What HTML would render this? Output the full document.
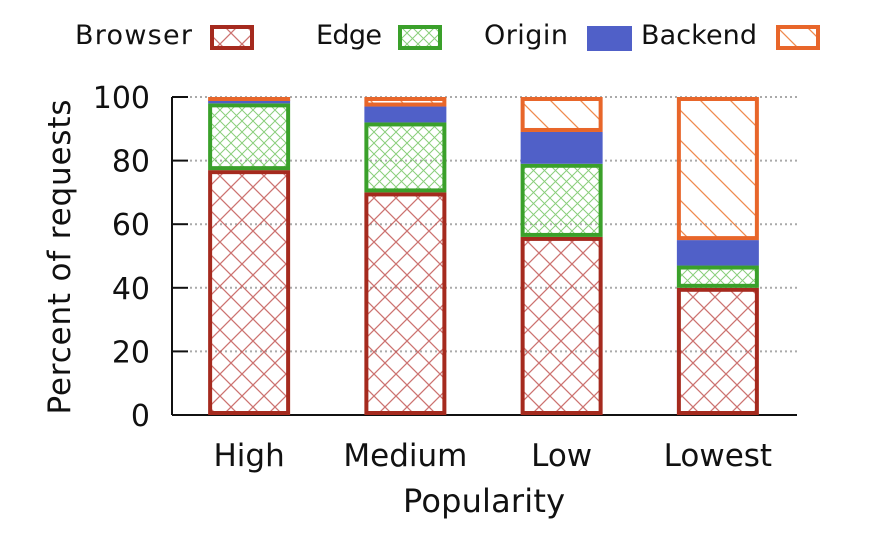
<!DOCTYPE html>
<html><head><meta charset="utf-8"><style>
html,body{margin:0;padding:0;background:#fff;}
svg{display:block;font-family:"DejaVu Sans","Liberation Sans",sans-serif;}
</style></head><body>
<svg id="chart" width="876" height="542" viewBox="0 0 876 542">
<defs>
<pattern id="pBrowser" width="22" height="22" patternUnits="userSpaceOnUse">
<path d="M0,0 L22,22 M22,0 L0,22" stroke="#c0504d" stroke-width="1.3" opacity="0.8"/></pattern>
<pattern id="pEdge" width="11" height="11" patternUnits="userSpaceOnUse">
<path d="M0,0 L11,11 M11,0 L0,11" stroke="#6cc25a" stroke-width="1" opacity="0.8"/></pattern>
<pattern id="pBackend" width="30" height="30" patternUnits="userSpaceOnUse">
<path d="M0,0 L30,30 M-15,15 L15,45 M15,-15 L45,15" stroke="#ef8a4e" stroke-width="1.3"/></pattern>
</defs>
<g id="legend">
<text x="75" y="44" font-size="27" fill="#111" textLength="117">Browser</text>
<rect x="212" y="27" width="40" height="21" fill="url(#pBrowser)" stroke="#a52a1e" stroke-width="4"/>
<text x="316" y="44" font-size="27" fill="#111" textLength="66">Edge</text>
<rect x="400" y="27" width="40" height="21" fill="url(#pEdge)" stroke="#3aa02a" stroke-width="4"/>
<text x="484" y="44" font-size="27" fill="#111" textLength="84">Origin</text>
<rect x="587" y="26" width="45" height="25" fill="#5060c8"/>
<text x="641" y="44" font-size="27" fill="#111" textLength="116">Backend</text>
<rect x="778" y="27" width="40" height="21" fill="url(#pBackend)" stroke="#e8662a" stroke-width="4"/>
</g>
<text transform="translate(70,257) rotate(-90)" text-anchor="middle" font-size="31" fill="#111" textLength="315">Percent of requests</text>
<text x="484" y="512" text-anchor="middle" font-size="32" fill="#111" textLength="162">Popularity</text>
<g id="axes"></g>
<g id="bars"></g>
</svg>
<script>
const categories = ["High","Medium","Low","Lowest"];
const browserVals = [77,70,56,40];
const edgeVals = [21,22,23,7];
const originVals = [1,5,10,8];
const backendVals = [1,3,11,45];
const yTicks = [0,20,40,60,80,100];

const NS="http://www.w3.org/2000/svg";
const x0=172,x1=797,yBase=415,yTop=97;
const y=v=>yBase-(v/100)*(yBase-yTop);
const bandW=(x1-x0)/categories.length;
const xc=i=>x0+bandW*(i+0.5)-1;
const barW=82;
function mk(tag,attrs,parent){const e=document.createElementNS(NS,tag);for(const k in attrs)e.setAttribute(k,attrs[k]);parent.appendChild(e);return e;}
const axes=document.getElementById('axes');
yTicks.forEach(t=>{
  if(t>0){const g=mk('line',{x1:190,x2:x1,y1:y(t),y2:y(t),stroke:'#aaa','stroke-width':2,'stroke-dasharray':'2,3'},axes);
  
  }
  const tk=mk('line',{x1:x0,x2:188,y1:y(t),y2:y(t),stroke:'#111','stroke-width':2},axes);
  
  
  const tl=mk('text',{x:150,y:y(t)+11,'text-anchor':'end','font-size':30,fill:'#111'},axes);
  tl.textContent=t;
  
  
});
const ya=mk('line',{x1:x0,x2:x0,y1:yTop,y2:yBase,stroke:'#111','stroke-width':2},axes);


const xa=mk('line',{x1:x0,x2:x1,y1:yBase,y2:yBase,stroke:'#111','stroke-width':2},axes);


const bars=document.getElementById('bars');
const series=[
 {name:'browser',vals:browserVals,fill:'url(#pBrowser)',stroke:'#a52a1e',sw:4},
 {name:'edge',vals:edgeVals,fill:'url(#pEdge)',stroke:'#3aa02a',sw:4},
 {name:'origin',vals:originVals,fill:'#5060c8',stroke:'none',sw:0},
 {name:'backend',vals:backendVals,fill:'url(#pBackend)',stroke:'#e8662a',sw:4}];
categories.forEach((c,i)=>{
  let acc=0;
  series.forEach(s=>{
    const v=s.vals[i];
    const top=y(acc+v),bot=y(acc);
    acc+=v;
    const inset=s.sw/2;
    const h=Math.max(bot-top-s.sw,0.5);
    const r=mk('rect',{x:xc(i)-barW/2+inset,y:top+inset,width:barW-s.sw,height:h,fill:s.fill,stroke:s.stroke,'stroke-width':s.sw},bars);
    if(s.sw===0){r.setAttribute('x',xc(i)-barW/2);r.setAttribute('width',barW);r.setAttribute('y',top);r.setAttribute('height',bot-top);}
    if(s.sw && bot-top<s.sw+1){r.setAttribute('x',xc(i)-barW/2);r.setAttribute('width',barW);r.setAttribute('y',top);r.setAttribute('height',Math.max(bot-top,4));r.setAttribute('fill',s.stroke);r.setAttribute('stroke','none');}
    
    
  });
  const l=mk('text',{x:xc(i),y:466,'text-anchor':'middle','font-size':31,fill:'#111'},bars);
  l.textContent=c;
  
  
});
</script>
</body></html>
